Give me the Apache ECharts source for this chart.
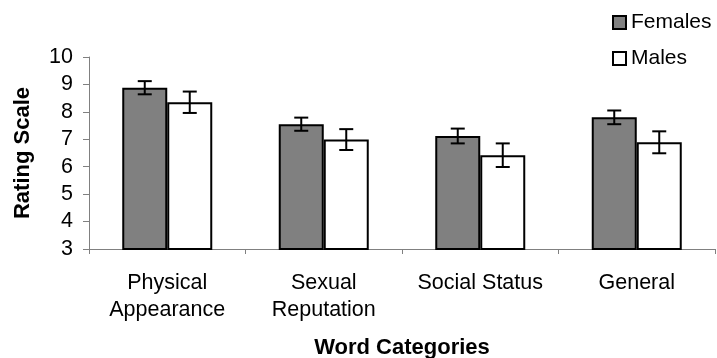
<!DOCTYPE html>
<html><head><meta charset="utf-8">
<script src="https://cdn.jsdelivr.net/npm/echarts@6/dist/echarts.min.js"></script>
<style>html,body{margin:0;padding:0;background:#fff}#c{width:717px;height:358px}</style>
</head><body><div id="c"></div>
<script>
const categories = ['Physical\nAppearance', 'Sexual\nReputation', 'Social Status', 'General'];
const femaleMeans = [8.88, 7.55, 7.12, 7.80];
const femaleErr = [0.24, 0.24, 0.27, 0.25];
const maleMeans = [8.35, 6.99, 6.42, 6.89];
const maleErr = [0.39, 0.38, 0.43, 0.40];
const seriesNames = ['Females', 'Males'];
const yTicks = { min: 3, max: 10, interval: 1 };

const FONT = '"Liberation Sans", Arial, sans-serif';
const BAR_W = 45;

function errData(means, errs) {
  return means.map((m, i) => [i, m - errs[i], m + errs[i]]);
}
function errRender(offset) {
  return function (params, api) {
    const lo = api.coord([api.value(0), api.value(1)]);
    const hi = api.coord([api.value(0), api.value(2)]);
    const x = lo[0] + offset;
    const cap = 7;
    const st = { stroke: '#000', lineWidth: 2 };
    return {
      type: 'group',
      children: [
        { type: 'line', shape: { x1: x, y1: lo[1], x2: x, y2: hi[1] }, style: st },
        { type: 'line', shape: { x1: x - cap, y1: lo[1], x2: x + cap, y2: lo[1] }, style: st },
        { type: 'line', shape: { x1: x - cap, y1: hi[1], x2: x + cap, y2: hi[1] }, style: st }
      ]
    };
  };
}

const chart = echarts.init(document.getElementById('c'), null, { renderer: 'canvas' });
chart.setOption({
  animation: false,
  textStyle: { fontFamily: FONT },
  grid: { left: 89, right: 2, top: 57, bottom: 109 },
  legend: {
    orient: 'vertical',
    left: 612, top: 12,
    itemWidth: 13, itemHeight: 13, itemGap: 15,
    icon: 'rect',
    padding: 0,
    textStyle: { fontSize: 21, color: '#000', fontFamily: FONT, lineHeight: 21 },
    data: [
      { name: seriesNames[0], itemStyle: { color: '#808080', borderColor: '#000', borderWidth: 2 } },
      { name: seriesNames[1], itemStyle: { color: '#fff', borderColor: '#000', borderWidth: 2 } }
    ]
  },
  xAxis: {
    type: 'category',
    data: categories,
    axisLine: { lineStyle: { color: '#808080', width: 1 } },
    axisTick: { show: true, length: 5, alignWithLabel: false, lineStyle: { color: '#808080' } },
    axisLabel: { fontSize: 21.5, color: '#000', lineHeight: 26.5, margin: 21, fontFamily: FONT, interval: 0 }
  },
  yAxis: {
    type: 'value',
    min: yTicks.min, max: yTicks.max, interval: yTicks.interval,
    splitLine: { show: false },
    axisLine: { show: true, lineStyle: { color: '#808080', width: 1 } },
    axisTick: { show: true, length: 6, lineStyle: { color: '#808080' } },
    axisLabel: { fontSize: 21.5, color: '#000', margin: 16, fontFamily: FONT }
  },
  graphic: [
    { type: 'text', x: 402, y: 348, style: { text: 'Word Categories', font: 'bold 22px ' + FONT, fill: '#000', align: 'center', verticalAlign: 'middle' } },
    { type: 'text', x: 23, y: 153, rotation: Math.PI / 2, style: { text: 'Rating Scale', font: 'bold 22px ' + FONT, fill: '#000', align: 'center', verticalAlign: 'middle' } }
  ],
  series: [
    { name: seriesNames[0], type: 'bar', data: femaleMeans, barWidth: BAR_W, barGap: '0%',
      itemStyle: { color: '#808080', borderColor: '#000', borderWidth: 2 } },
    { name: seriesNames[1], type: 'bar', data: maleMeans, barWidth: BAR_W, barGap: '0%',
      itemStyle: { color: '#fff', borderColor: '#000', borderWidth: 2 } },
    { type: 'custom', name: 'fErr', data: errData(femaleMeans, femaleErr), renderItem: errRender(-BAR_W / 2), z: 10, encode: { x: 0, y: [1, 2] } },
    { type: 'custom', name: 'mErr', data: errData(maleMeans, maleErr), renderItem: errRender(BAR_W / 2), z: 10, encode: { x: 0, y: [1, 2] } }
  ]
});
</script></body></html>
